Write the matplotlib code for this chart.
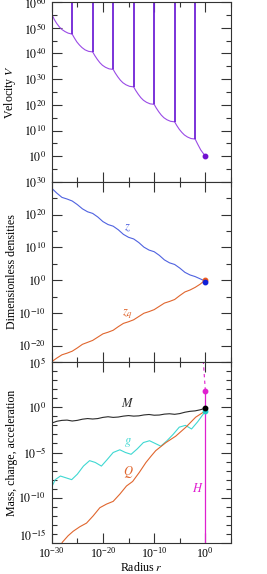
import numpy as np
import matplotlib
matplotlib.use("Agg")
import matplotlib.pyplot as plt
from matplotlib.ticker import FixedLocator, FuncFormatter, NullFormatter

plt.rcParams['font.family'] = 'serif'
plt.rcParams['font.serif'] = ['Liberation Serif', 'DejaVu Serif']
plt.rcParams['mathtext.fontset'] = 'stix'
plt.rcParams['font.size'] = 8.6

# ---- data (log10 values) ----
# velocity V: smooth pieces between the resonance spikes
v_seg_r = [
    [-29.9, -29.5, -29.0, -28.5, -28.0, -27.4, -26.8, -26.0],
    [-26.0, -25.6, -25.1, -24.6, -24.1, -23.5, -22.8, -22.0],
    [-22.0, -21.6, -21.1, -20.6, -20.1, -19.5, -18.8, -18.0],
    [-18.0, -17.6, -17.1, -16.6, -16.1, -15.5, -14.8, -14.0],
    [-14.0, -13.6, -13.1, -12.6, -12.1, -11.5, -10.8, -10.0],
    [-10.0, -9.6, -9.1, -8.6, -8.1, -7.5, -6.8, -6.0],
    [-6.0, -5.6, -5.1, -4.6, -4.1, -3.5, -2.8, -2.0],
    [-2.0, -1.5, -0.9, 0.0],
]
v_seg_v = [
    [55.0, 53.2, 51.6, 50.3, 49.3, 48.5, 47.9, 47.5],
    [47.5, 46.1, 44.5, 43.3, 42.3, 41.4, 40.8, 40.6],
    [40.6, 39.2, 37.7, 36.4, 35.4, 34.6, 34.0, 33.8],
    [33.8, 32.4, 30.9, 29.6, 28.6, 27.8, 27.2, 27.0],
    [27.0, 25.6, 24.1, 22.8, 21.8, 21.0, 20.4, 20.2],
    [20.2, 18.8, 17.3, 16.0, 15.0, 14.2, 13.6, 13.4],
    [13.4, 12.0, 10.5, 9.3, 8.3, 7.5, 6.9, 6.7],
    [6.7, 4.7, 2.45, 0.0],
]
spike_r = [-29.9, -26.0, -22.0, -18.0, -14.0, -10.0, -6.0, -2.0]
spike_v = [55.0, 47.5, 40.6, 33.8, 27.0, 20.2, 13.4, 6.7]

# dimensionless densities
rho_r = list(range(-30, 1))
z_vals = [28.1, 26.6, 25.3, 24.8, 24.2, 23.1, 21.8, 20.9, 20.4, 19.3, 17.9,
          17.0, 16.5, 15.4, 14.0, 13.1, 12.6, 11.5, 10.1, 9.2, 8.7, 7.6,
          6.2, 5.3, 4.8, 3.7, 2.4, 1.6, 1.1, 0.4, -0.3]
zq_vals = [-24.9, -23.8, -22.8, -22.3, -21.7, -20.7, -19.6, -19.0, -18.4,
           -17.4, -16.4, -15.9, -15.3, -14.2, -13.2, -12.7, -12.1, -11.1,
           -10.1, -9.6, -9.0, -8.0, -7.0, -6.5, -5.9, -4.7, -3.6, -3.0,
           -2.2, -1.2, 0.1]
z_end, zq_end = -0.6, 0.0

# mass, charge, acceleration
M_vals = [-1.75, -1.55, -1.45, -1.42, -1.52, -1.45, -1.32, -1.25, -1.30,
          -1.25, -1.12, -1.05, -1.12, -1.08, -0.98, -0.92, -0.98, -0.95,
          -0.85, -0.80, -0.88, -0.86, -0.76, -0.72, -0.78, -0.70, -0.55,
          -0.45, -0.40, -0.28, -0.10]
g_r = [-30.0, -29.3, -28.3, -27.2, -26.1, -25.0, -23.8, -22.6, -21.5, -20.3,
       -19.2, -18.0, -16.7, -15.6, -14.5, -13.3, -12.1, -10.9, -9.8, -8.7,
       -7.5, -6.3, -5.1, -3.9, -2.7, -1.5, -0.6, 0.0]
g_vals = [-8.8, -8.0, -7.6, -7.8, -8.0, -7.4, -6.5, -5.9, -6.1, -6.5,
          -5.8, -5.0, -4.7, -5.0, -5.2, -4.6, -3.9, -3.7, -4.0, -4.3,
          -3.7, -3.0, -2.2, -2.0, -2.4, -1.6, -0.9, -0.45]
Q_r = [-28.5, -27.9, -26.8, -25.8, -24.5, -23.2, -21.9, -20.6, -19.3, -18.0,
       -16.7, -15.4, -14.2, -12.9, -11.6, -10.6, -9.7, -7.7, -5.8, -3.8,
       -1.9, 0.0]
Q_vals = [-15.5, -14.9, -14.2, -13.7, -13.2, -12.8, -12.0, -11.1, -10.7,
          -10.4, -9.6, -8.7, -8.2, -7.2, -6.1, -5.4, -4.8, -3.9, -3.2, -2.2,
          -1.1, -0.4]
H_solid_r = [0.0, 0.0]
H_solid = [-20.0, 1.84]
H_dash_r = [0.0, -0.15, -0.3, -0.45]
H_dash = [1.84, 3.0, 4.2, 5.5]
M_end, g_end = -0.1, -0.45

c_V, c_spike = '#9a4be6', '#6f22d6'
c_z, c_zq = '#4f62e0', '#e0662e'
c_M, c_g, c_H = '#2a2a2a', '#3fd8d2', '#e020d0'


def p(v):
    return 10.0 ** np.asarray(v, dtype=float)


fig = plt.figure(figsize=(2.67, 5.74), dpi=100)
W, H = 267.0, 574.0
left, right = 51.7 / W, 231.0 / W
edges = [2.0, 182.0, 362.0, 543.0]
axes = []
for i in range(3):
    top, bot = edges[i], edges[i + 1]
    axes.append(fig.add_axes([left, 1 - bot / H, right - left, (bot - top) / H]))
ax1, ax2, ax3 = axes

fmt = FuncFormatter(lambda v, pos: r'$10^{%d}$' % int(round(np.log10(v))))
for ax in axes:
    ax.set_xscale('log')
    ax.set_yscale('log')
    ax.set_xlim(1e-30, 1e5)
    ax.xaxis.set_major_locator(FixedLocator(p([-30, -20, -10, 0])))
    ax.xaxis.set_minor_locator(FixedLocator(p([-25, -15, -5, 5])))
    ax.xaxis.set_minor_formatter(NullFormatter())
    ax.yaxis.set_minor_formatter(NullFormatter())
    ax.yaxis.set_major_formatter(fmt)
    ax.tick_params(which='both', direction='in', top=True, right=True,
                   width=0.8, color='#333333')
    ax.tick_params(which='major', length=7.5)
    ax.tick_params(which='minor', length=3.6)
    ax.tick_params(axis='y', pad=4)
    ax.tick_params(axis='x', pad=2.5)
    for s in ax.spines.values():
        s.set_linewidth(0.8)
        s.set_color('#333333')
    if ax is not ax3:
        ax.set_xticklabels([])

# --- panel 1: velocity ---
for xs, ys in zip(v_seg_r, v_seg_v):
    ax1.plot(p(xs), p(ys), color=c_V, lw=0.8)
ax1.vlines(p(spike_r), p(spike_v), 1e80, color=c_spike, lw=1.3)
ax1.plot([1.0], [1.0], 'o', color='#7010d0', ms=3.2)
ax1.set_ylim(1e-10, 1e60)
ax1.yaxis.set_major_locator(FixedLocator(p(range(0, 61, 10))))
ax1.yaxis.set_minor_locator(FixedLocator(p(range(-5, 60, 10))))
ax1.set_ylabel(r'Velocity $V$')

# --- panel 2: densities ---
ax2.plot(p(rho_r), p(z_vals), color=c_z, lw=0.8)
ax2.plot(p(rho_r), p(zq_vals), color=c_zq, lw=0.8)
ax2.plot([1.0], p([zq_end]), 'o', color='#f05a1a', ms=3.2)
ax2.plot([1.0], p([z_end]), 'o', color='#1020d8', ms=3.2)
ax2.text(p(-15.2), p(15.8), r'$z$', color=c_z, ha='center', va='center', fontsize=9)
ax2.text(p(-15.2), p(-10.4), r'$z_q$', color=c_zq, ha='center', va='center', fontsize=9)
ax2.set_ylim(1e-25, 1e30)
ax2.yaxis.set_major_locator(FixedLocator(p(range(-20, 31, 10))))
ax2.yaxis.set_minor_locator(FixedLocator(p(range(-25, 30, 10))))
ax2.set_ylabel('Dimensionless densities')

# --- panel 3: mass, charge, acceleration ---
ax3.plot(p(H_solid_r), p(H_solid), color=c_H, lw=0.9)
ax3.plot(p(H_dash_r), p(H_dash), color=c_H, lw=0.8, dashes=(3, 3))
ax3.plot(p(rho_r), p(M_vals), color=c_M, lw=0.8)
ax3.plot(p(g_r), p(g_vals), color=c_g, lw=0.8)
ax3.plot(p(Q_r), p(Q_vals), color=c_zq, lw=0.8)
ax3.plot([1.0], p([g_end]), 'o', color='#20c8c8', ms=3.2)
ax3.plot([1.0], p([M_end]), 'o', color='black', ms=3.2)
ax3.plot([1.0], p([H_dash[0]]), 'o', color=c_H, ms=3.2)
ax3.text(p(-15.2), p(0.4), r'$M$', color=c_M, ha='center', va='center', fontsize=9)
ax3.text(p(-15.2), p(-3.9), r'$g$', color=c_g, ha='center', va='center', fontsize=9)
ax3.text(p(-15.0), p(-7.2), r'$Q$', color=c_zq, ha='center', va='center', fontsize=9)
ax3.text(p(-1.4), p(-9.0), r'$H$', color=c_H, ha='center', va='center', fontsize=9)
ax3.set_ylim(1e-15, 1e5)
ax3.yaxis.set_major_locator(FixedLocator(p(range(-15, 6, 5))))
ax3.yaxis.set_minor_locator(FixedLocator(p([v for v in range(-15, 6) if v % 5])))
ax3.set_ylabel('Mass, charge, acceleration')
ax3.set_xlabel(r'Radius $r$', labelpad=0)

# lift the lowest y label so it clears the 10^-30 x label
ax3.yaxis.get_major_ticks()[0].label1.set_verticalalignment('bottom')

for ax in axes:
    ax.yaxis.set_label_coords(-0.19, 0.5)

fig.savefig('out.png', dpi=100)
